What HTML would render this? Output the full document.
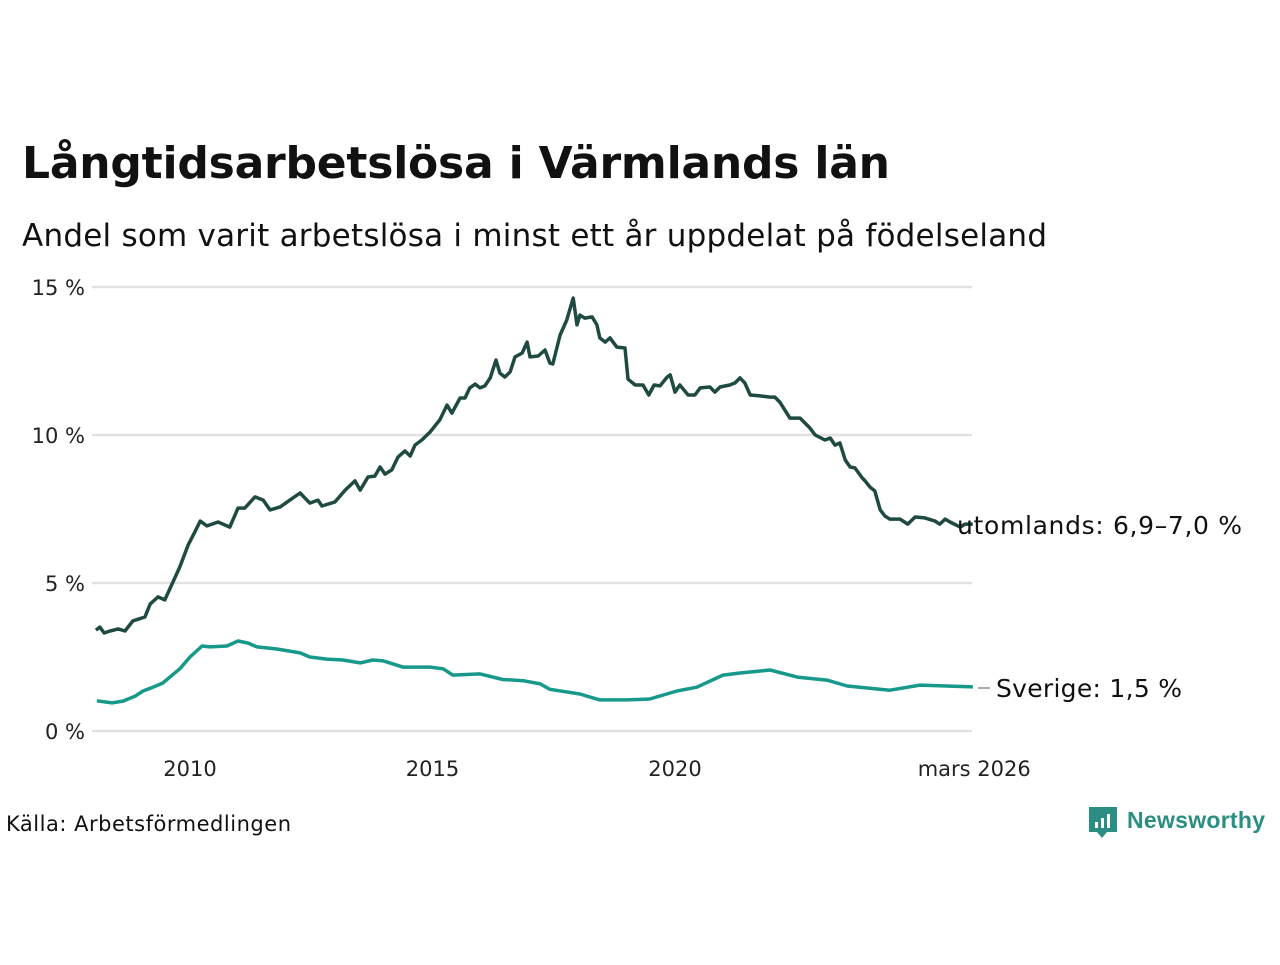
<!DOCTYPE html>
<html><head><meta charset="utf-8"><style>
body{margin:0;background:#fff;width:1280px;height:960px;overflow:hidden;font-family:"Liberation Sans","DejaVu Sans",sans-serif}
svg text{font-family:"DejaVu Sans","Liberation Sans",sans-serif}
</style></head><body>
<svg width="1280" height="960">
<text x="22" y="178" font-size="44" font-weight="bold" fill="#111" textLength="868">Långtidsarbetslösa i Värmlands län</text>
<text x="22" y="246" font-size="31" fill="#111" textLength="1025">Andel som varit arbetslösa i minst ett år uppdelat på födelseland</text>
<g id="grid"></g><g id="xt"></g><g id="lines"></g>
<text x="6" y="831" font-size="21" fill="#111" textLength="285">Källa: Arbetsförmedlingen</text>
<g>
<path d="M1089 807h28v25h-10l-5 6-5-6h-8z" fill="#2a8f82"/>
<rect x="1095" y="822" width="3" height="6" fill="#fff"/><rect x="1101" y="818" width="3" height="10" fill="#fff"/><rect x="1107" y="814" width="3" height="14" fill="#fff"/>
<text x="1127" y="828" font-size="23" font-weight="bold" fill="#2a8f82" textLength="138" style="font-family:'Liberation Sans',sans-serif">Newsworthy</text>
</g>
</svg>
<script>
const yTicks=[0,5,10,15];
const yTickLabels=["0 %","5 %","10 %","15 %"];
const xTicks=[2010,2015,2020,2026.17];
const xTickLabels=["2010","2015","2020","mars 2026"];
const utDates=[2008.06,2008.14,2008.23,2008.35,2008.52,2008.66,2008.82,2009.07,2009.18,2009.34,2009.48,2009.63,2009.79,2009.96,2010.10,2010.21,2010.35,2010.58,2010.82,2010.99,2011.13,2011.34,2011.51,2011.65,2011.86,2012.06,2012.27,2012.47,2012.64,2012.72,2012.99,2013.20,2013.40,2013.51,2013.67,2013.81,2013.92,2014.02,2014.16,2014.29,2014.43,2014.54,2014.64,2014.78,2014.95,2015.15,2015.30,2015.40,2015.57,2015.67,2015.77,2015.88,2015.98,2016.08,2016.19,2016.31,2016.39,2016.49,2016.60,2016.70,2016.85,2016.95,2017.01,2017.18,2017.32,2017.42,2017.48,2017.63,2017.77,2017.90,2017.98,2018.04,2018.14,2018.29,2018.39,2018.45,2018.56,2018.66,2018.80,2018.97,2019.03,2019.18,2019.34,2019.46,2019.57,2019.69,2019.84,2019.90,2020.00,2020.10,2020.27,2020.41,2020.52,2020.72,2020.82,2020.93,2021.13,2021.24,2021.34,2021.44,2021.55,2021.75,2021.96,2022.06,2022.16,2022.37,2022.58,2022.78,2022.89,2023.09,2023.20,2023.30,2023.40,2023.51,2023.61,2023.71,2023.86,2023.92,2024.02,2024.12,2024.23,2024.33,2024.43,2024.64,2024.80,2024.95,2025.15,2025.36,2025.46,2025.57,2025.67,2025.88,2025.98,2026.14];
const utValues=[3.41,3.51,3.31,3.38,3.45,3.38,3.72,3.85,4.29,4.53,4.43,4.97,5.54,6.28,6.72,7.09,6.93,7.06,6.89,7.53,7.53,7.91,7.8,7.47,7.57,7.8,8.04,7.7,7.8,7.6,7.74,8.14,8.45,8.14,8.58,8.61,8.92,8.68,8.82,9.26,9.46,9.29,9.66,9.83,10.1,10.51,11.01,10.74,11.25,11.25,11.59,11.72,11.59,11.66,11.93,12.53,12.09,11.96,12.13,12.64,12.77,13.14,12.64,12.67,12.87,12.43,12.4,13.38,13.89,14.63,13.72,14.05,13.95,13.99,13.72,13.28,13.14,13.28,12.97,12.94,11.89,11.69,11.69,11.35,11.69,11.66,11.96,12.03,11.45,11.69,11.35,11.35,11.59,11.62,11.45,11.62,11.69,11.76,11.93,11.76,11.35,11.32,11.28,11.28,11.11,10.57,10.57,10.24,10.0,9.83,9.9,9.66,9.73,9.16,8.92,8.89,8.55,8.45,8.24,8.11,7.47,7.26,7.16,7.16,6.99,7.23,7.2,7.09,6.99,7.16,7.06,6.89,6.99,6.99];
const svDates=[2008.08,2008.39,2008.62,2008.87,2009.03,2009.24,2009.44,2009.79,2010.0,2010.25,2010.41,2010.76,2010.99,2011.20,2011.38,2011.79,2012.27,2012.47,2012.82,2013.15,2013.51,2013.77,2013.98,2014.39,2014.95,2015.22,2015.42,2015.98,2016.45,2016.87,2017.22,2017.42,2018.04,2018.45,2019.01,2019.48,2020.04,2020.45,2020.99,2021.34,2021.96,2022.52,2023.13,2023.55,2024.43,2025.05,2026.14];
const svValues=[1.02,0.95,1.01,1.18,1.35,1.48,1.62,2.1,2.5,2.87,2.84,2.87,3.04,2.97,2.84,2.77,2.64,2.5,2.43,2.4,2.3,2.4,2.37,2.16,2.16,2.1,1.89,1.93,1.74,1.7,1.59,1.41,1.25,1.05,1.05,1.08,1.35,1.48,1.89,1.96,2.06,1.82,1.72,1.52,1.38,1.55,1.49];
const NS="http://www.w3.org/2000/svg";
const X=t=>190+(t-2010)*48.5, Y=v=>731-v*29.6;
function mk(tag,attrs,parent){const e=document.createElementNS(NS,tag);for(const k in attrs)e.setAttribute(k,attrs[k]);parent.appendChild(e);return e;}
const grid=document.getElementById('grid'), xt=document.getElementById('xt'), lines=document.getElementById('lines');
yTicks.forEach((v,i)=>{
 const l=mk('line',{x1:92,x2:972,y1:Y(v),y2:Y(v),stroke:'#e2e2e2','stroke-width':2.5},grid);
 
 
 const t=mk('text',{x:85,y:Y(v)+8,'font-size':21,'text-anchor':'end',fill:'#222'},grid);
 t.textContent=yTickLabels[i];
 
 
});
xTicks.forEach((v,i)=>{
 const t=mk('text',{x:X(v),y:776,'font-size':21,'text-anchor':'middle',fill:'#222'},xt);
 t.textContent=xTickLabels[i];
 
 
});
function path(d,v,col,name){
 const n=Math.min(d.length,v.length);
 const p=mk('path',{d:d.slice(0,n).map((t,i)=>(i?'L':'M')+X(t).toFixed(1)+' '+Y(v[i]).toFixed(1)).join(''),fill:'none',stroke:col,'stroke-width':3.5,'stroke-linejoin':'round'},lines);
 
 
}
path(svDates,svValues,'#16998a','line-sverige');
path(utDates,utValues,'#1f4a41','line-utomlands');
const l1=mk('text',{x:957,y:534,'font-size':25,fill:'#111',textLength:285},lines);
l1.textContent='utomlands: 6,9–7,0 %';


mk('line',{x1:978,x2:990,y1:688,y2:688,stroke:'#555','stroke-width':1},lines);
const l2=mk('text',{x:996,y:697,'font-size':25,fill:'#111',textLength:186},lines);
l2.textContent='Sverige: 1,5 %';


</script>
</body></html>
